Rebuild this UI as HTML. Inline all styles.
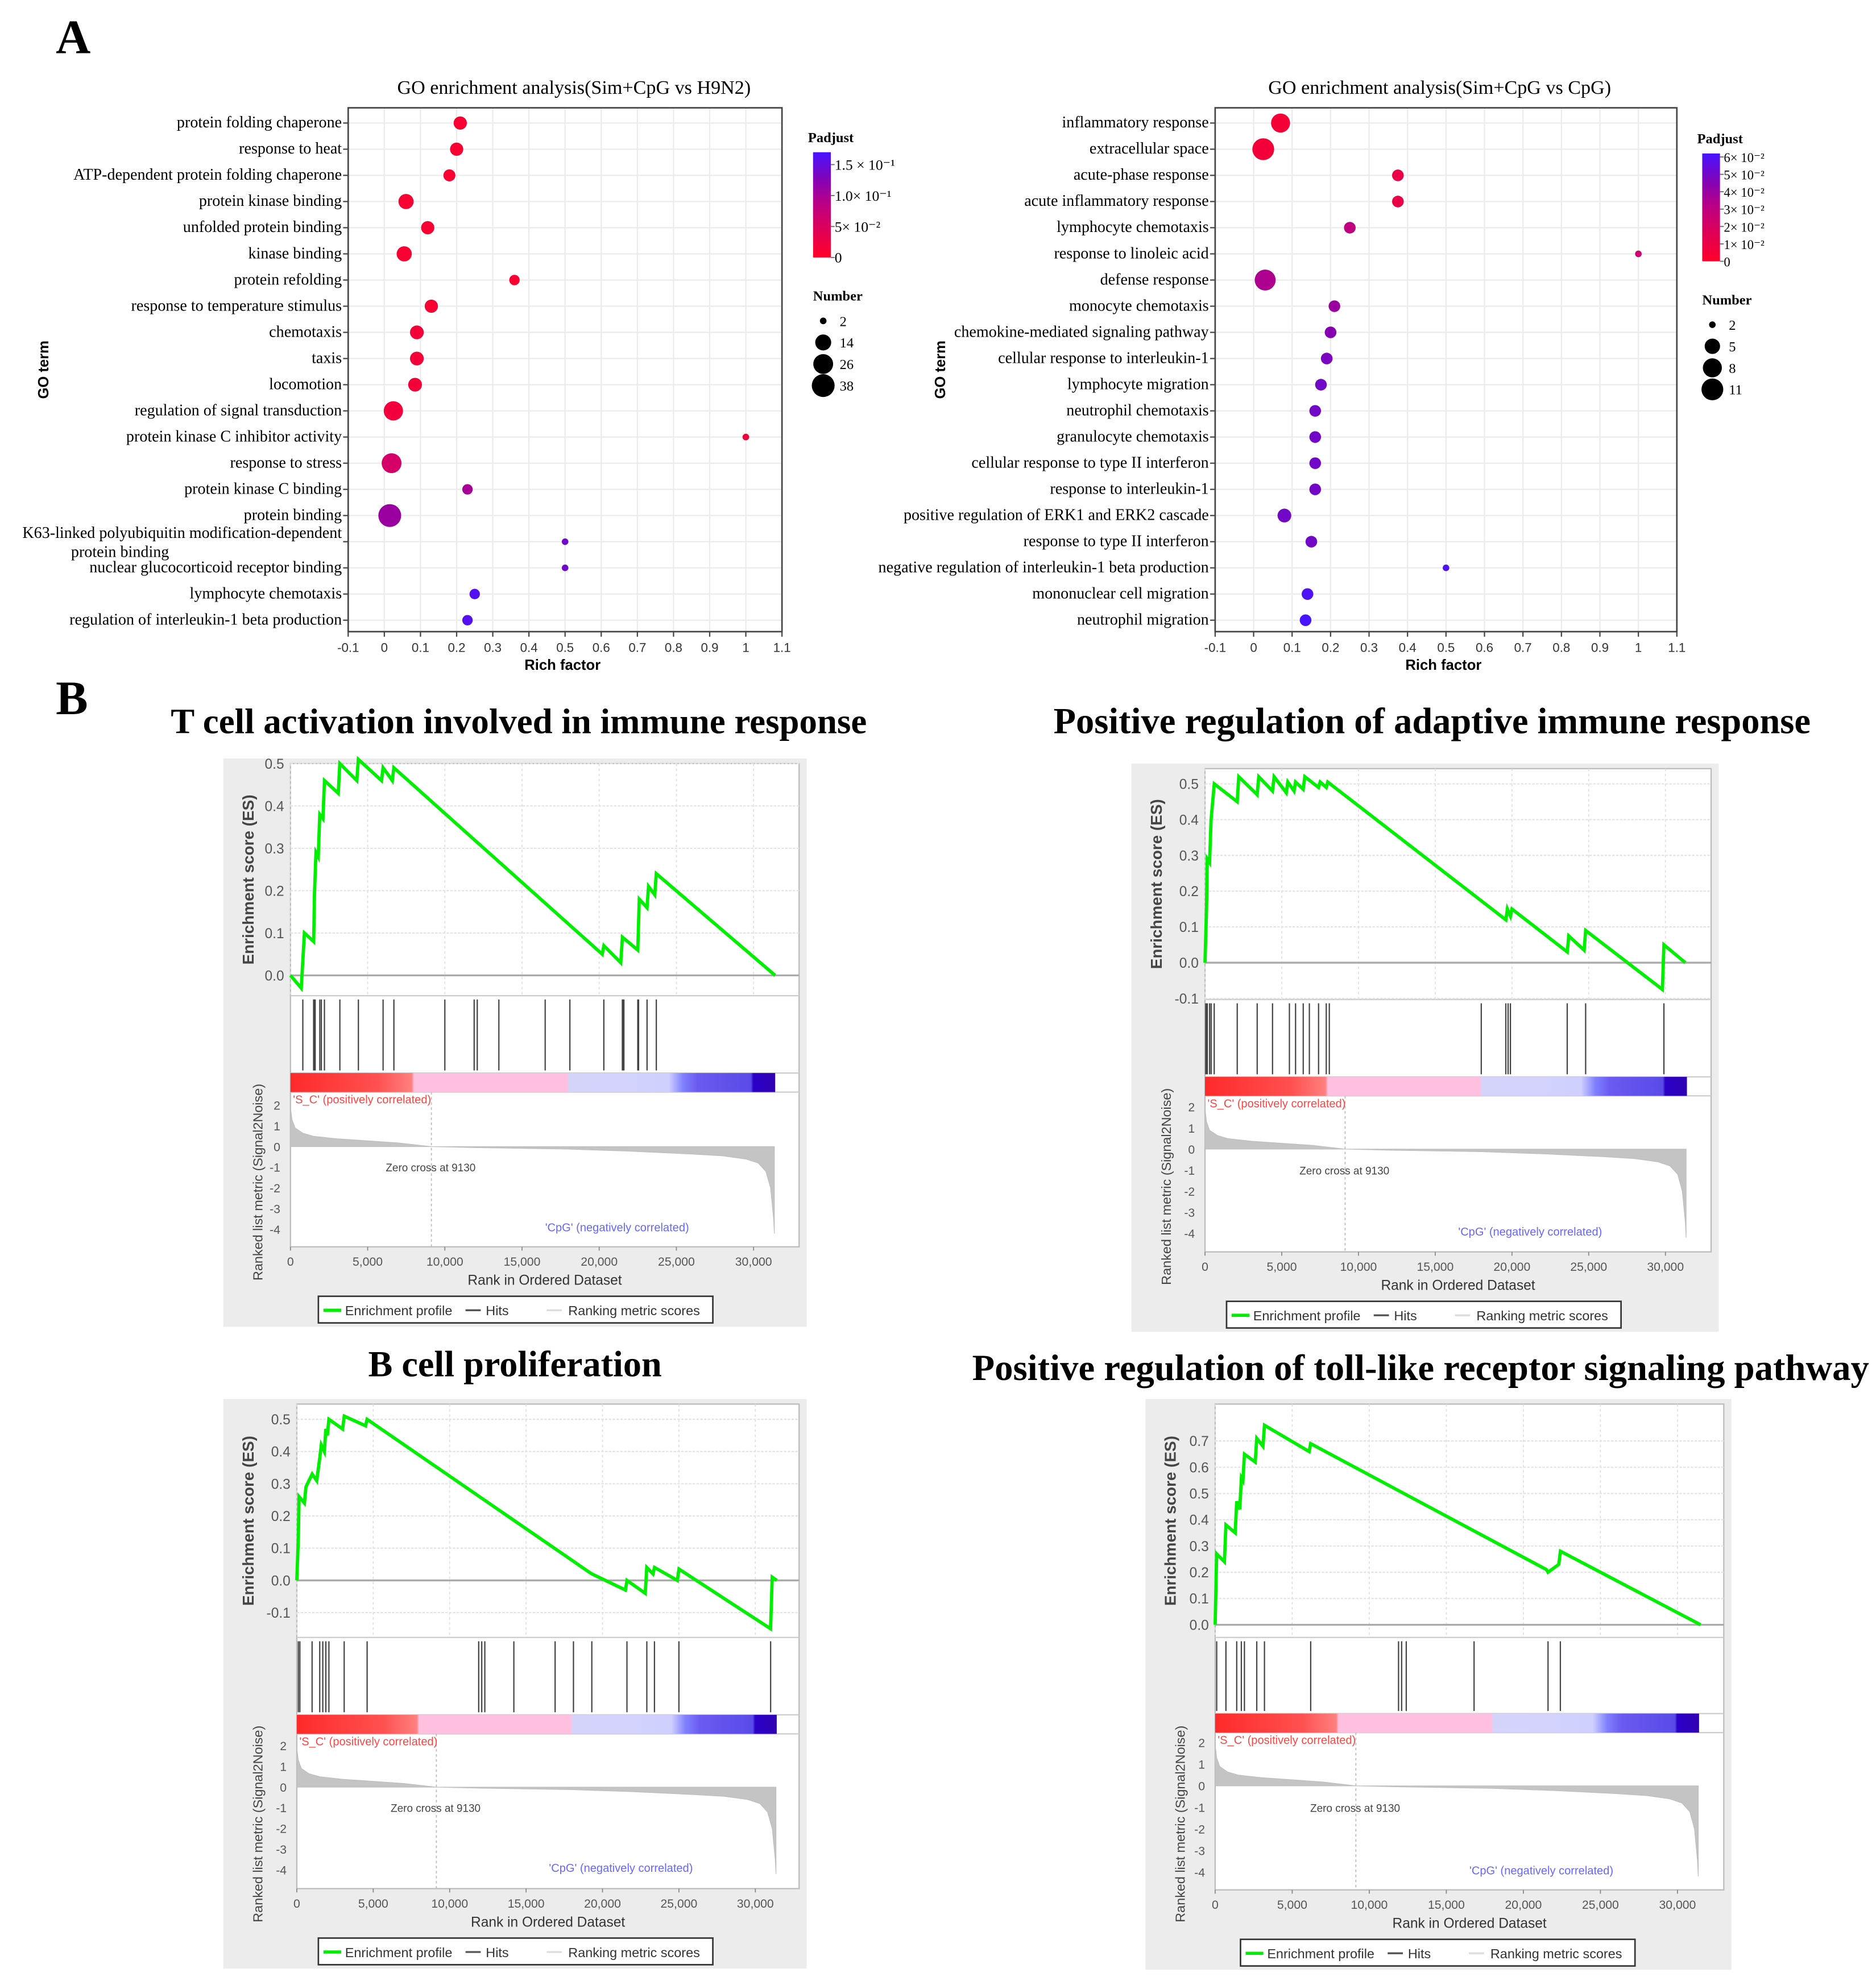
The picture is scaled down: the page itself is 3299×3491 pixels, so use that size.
<!DOCTYPE html>
<html><head><meta charset="utf-8">
<style>
html,body{margin:0;padding:0;background:#fff;}
svg{display:block;}
</style></head>
<body>
<svg id="fig" xmlns="http://www.w3.org/2000/svg" width="3299" height="3491" viewBox="0 0 1479 1565" preserveAspectRatio="none">
<rect x="0" y="0" width="1479" height="1565" fill="#fff"/>
<text x="44" y="42" font-family="Liberation Serif, serif" font-weight="bold" font-size="38">A</text>
<text x="44" y="563" font-family="Liberation Serif, serif" font-weight="bold" font-size="38">B</text>
</svg>
<script>
// ---------------- Panel A data ----------------
const leftTerms = ["protein folding chaperone","response to heat","ATP-dependent protein folding chaperone","protein kinase binding","unfolded protein binding","kinase binding","protein refolding","response to temperature stimulus","chemotaxis","taxis","locomotion","regulation of signal transduction","protein kinase C inhibitor activity","response to stress","protein kinase C binding","protein binding","K63-linked polyubiquitin modification-dependent|protein binding","nuclear glucocorticoid receptor binding","lymphocyte chemotaxis","regulation of interleukin-1 beta production"];
const leftRich = [0.21,0.20,0.18,0.06,0.12,0.055,0.36,0.13,0.09,0.09,0.085,0.025,1.0,0.02,0.23,0.015,0.50,0.50,0.25,0.23];
const leftNum = [8,8,6,12,8,12,4,8,9,9,9,24,2,26,4,38,2,2,4,4];
const leftPadj = [0.01,0.01,0.01,0.01,0.01,0.01,0.01,0.01,0.015,0.015,0.015,0.02,0.02,0.06,0.1,0.11,0.14,0.14,0.16,0.16];
const leftPadjTicks = [0,0.05,0.10,0.15];
const leftPadjLabels = ["0","5× 10⁻²","1.0× 10⁻¹","1.5 × 10⁻¹"];
const leftNumTicks = [2,14,26,38];

const rightTerms = ["inflammatory response","extracellular space","acute-phase response","acute inflammatory response","lymphocyte chemotaxis","response to linoleic acid","defense response","monocyte chemotaxis","chemokine-mediated signaling pathway","cellular response to interleukin-1","lymphocyte migration","neutrophil chemotaxis","granulocyte chemotaxis","cellular response to type II interferon","response to interleukin-1","positive regulation of ERK1 and ERK2 cascade","response to type II interferon","negative regulation of interleukin-1 beta production","mononuclear cell migration","neutrophil migration"];
const rightRich = [0.07,0.025,0.375,0.375,0.25,1.0,0.03,0.21,0.20,0.19,0.175,0.16,0.16,0.16,0.16,0.08,0.15,0.50,0.14,0.135];
const rightNum = [8,11,3,3,3,2,10,3,3,3,3,3,3,3,3,4,3,2,3,3];
const rightPadj = [0.005,0.006,0.01,0.01,0.03,0.025,0.035,0.04,0.045,0.048,0.05,0.05,0.05,0.05,0.05,0.05,0.05,0.06,0.06,0.062];
const rightPadjTicks = [0,0.01,0.02,0.03,0.04,0.05,0.06];
const rightPadjLabels = ["0","1× 10⁻²","2× 10⁻²","3× 10⁻²","4× 10⁻²","5× 10⁻²","6× 10⁻²"];
const rightNumTicks = [2,5,8,11];

const richTicks = [-0.1,0,0.1,0.2,0.3,0.4,0.5,0.6,0.7,0.8,0.9,1,1.1];
const richTickLabels = ["-0.1","0","0.1","0.2","0.3","0.4","0.5","0.6","0.7","0.8","0.9","1","1.1"];

// ---------------- Panel B data ----------------
const esRanks1 = [0,700,900,1500,1550,1650,1800,1900,2100,2200,3100,3200,4300,4400,5900,6000,6600,6700,20200,20300,21400,21500,22500,22600,23100,23200,23600,23700,31400];
const esVals1 = [0,-0.03,0.1,0.08,0.19,0.29,0.28,0.38,0.37,0.46,0.43,0.5,0.46,0.51,0.46,0.49,0.46,0.49,0.05,0.07,0.03,0.09,0.06,0.18,0.16,0.21,0.19,0.24,0.0];
const hits1 = [800,1500,1550,1600,1900,2000,2200,3200,4400,6000,6700,10000,11900,12100,13500,16500,18100,20300,21500,21550,21600,22500,22550,23100,23700];

const esRanks2 = [0,100,150,300,400,600,2100,2200,3400,3500,4400,4500,5300,5400,5800,5900,6400,6500,7400,7500,7900,8000,19600,19700,19900,20000,23600,23700,24700,24800,29800,29900,31300];
const esVals2 = [0,0.15,0.29,0.28,0.4,0.5,0.45,0.52,0.47,0.52,0.48,0.52,0.475,0.505,0.48,0.505,0.485,0.52,0.49,0.505,0.49,0.505,0.12,0.15,0.13,0.15,0.03,0.075,0.035,0.09,-0.075,0.05,0.0];
const hits2 = [50,100,150,300,400,600,2100,3400,4400,5500,5900,6400,6800,7400,7900,8100,18000,19600,19750,19900,23600,24800,29900];

const esRanks3 = [0,100,150,500,600,1000,1300,1500,1600,1800,1900,2000,2100,3000,3100,4500,4600,19000,19300,21500,21600,22800,22900,23300,23400,24900,25000,31000,31100,31400];
const esVals3 = [0,0.13,0.26,0.24,0.29,0.33,0.31,0.38,0.42,0.4,0.47,0.45,0.5,0.47,0.51,0.48,0.5,0.03,0.02,-0.03,0.0,-0.04,0.04,0.02,0.04,0.0,0.035,-0.15,0.01,0.0];
const hits3 = [100,200,1000,1500,1700,1900,2100,3100,4600,11900,12100,12300,14200,16900,18100,19300,21600,22900,23400,25000,31000];

const esRanks4 = [0,100,600,700,1300,1400,1600,1700,1800,1900,2600,2700,3100,3200,6100,6200,21500,21600,22300,22400,31500];
const esVals4 = [0,0.27,0.24,0.38,0.35,0.47,0.44,0.56,0.55,0.65,0.62,0.71,0.68,0.76,0.66,0.69,0.21,0.2,0.23,0.28,0.0];
const hits4 = [100,700,1400,1700,1900,2700,3200,6200,11900,12100,12400,16800,21600,22400];

const rmRanks = [0,100,300,800,1500,3000,5000,7000,9130,9130,12000,18000,22000,26000,28000,29500,30300,30800,31100,31300,31350];
const rmVals = [1.9,1.3,0.9,0.65,0.5,0.38,0.28,0.18,0.0,0.0,-0.05,-0.12,-0.22,-0.36,-0.45,-0.6,-0.8,-1.2,-2.0,-3.5,-4.2];
const rmTicks = [2,1,0,-1,-2,-3,-4];
const rankTicks = [0,5000,10000,15000,20000,25000,30000];
const rankTickLabels = ["0","5,000","10,000","15,000","20,000","25,000","30,000"];

// ---------------- helpers ----------------
const NS = "http://www.w3.org/2000/svg";
const svg = document.getElementById('fig');
function mk(tag, parent, attrs){
  const e = document.createElementNS(NS, tag);
  for (const k in attrs) e.setAttribute(k, attrs[k]);
  (parent||svg).appendChild(e);
  return e;
}
function padjColor(t){
  const stops=[[0,[255,0,40]],[0.45,[200,0,120]],[0.7,[140,0,170]],[1,[70,20,255]]];
  for(let i=0;i<stops.length-1;i++){
    const a=stops[i],b=stops[i+1];
    if(t<=b[0]){const u=(t-a[0])/(b[0]-a[0]);const c=a[1].map((v,j)=>Math.round(v+(b[1][j]-v)*u));return `rgb(${c[0]},${c[1]},${c[2]})`;}
  }
  return 'rgb(70,20,255)';
}
const SERIF="Liberation Serif, serif", SANS="Liberation Sans, sans-serif";

// ---------------- Panel A drawer ----------------
function goChart(cfg, terms, rich, nums, padj, padjTicks, padjLabels, numTicks){
  const g = mk('g', svg, {});
  
  
  const L=cfg.L, R=cfg.R, T=cfg.T, B=cfg.B;
  const xs = v => L + (v+0.1)/1.2*(R-L);
  const rowY = i => cfg.y0 + i*cfg.dy;
  const rs = n => cfg.rMin + (cfg.rMax-cfg.rMin)*Math.sqrt((n-numTicks[0])/(numTicks[numTicks.length-1]-numTicks[0]));
  richTicks.forEach(v=>{ const gl=mk('line',g,{x1:xs(v),x2:xs(v),y1:T,y2:B,stroke:'#ebebeb','stroke-width':1});  });
  terms.forEach((t,i)=>{ const gl=mk('line',g,{x1:L,x2:R,y1:rowY(i),y2:rowY(i),stroke:'#ebebeb','stroke-width':1});  });
  const fr=mk('rect',g,{x:L,y:T,width:R-L,height:B-T,fill:'none',stroke:'#444','stroke-width':1.2});
   
  const ti=mk('text',g,{x:(L+R)/2+cfg.titleDx,y:T-11,'text-anchor':'middle','font-family':SERIF,'font-size':15.3});
  ti.textContent=cfg.title;
   
  richTicks.forEach((v,i)=>{
    mk('line',g,{x1:xs(v),x2:xs(v),y1:B,y2:B+4,stroke:'#444','stroke-width':1});
    const tl=mk('text',g,{x:xs(v),y:B+16,'text-anchor':'middle','font-family':SANS,'font-size':10,fill:'#333'});
    tl.textContent=richTickLabels[i];
     
  });
  const xt=mk('text',g,{x:(L+R)/2-2,y:B+30,'text-anchor':'middle','font-family':SANS,'font-size':11.5,'font-weight':'bold'});
  xt.textContent='Rich factor';
   
  const yt=mk('text',g,{x:0,y:0,'text-anchor':'middle','font-family':SANS,'font-size':11.5,'font-weight':'bold',transform:`translate(${cfg.ytX},${(T+B)/2}) rotate(-90)`});
  yt.textContent='GO term';
   
  terms.forEach((t,i)=>{
    mk('line',g,{x1:L-4,x2:L,y1:rowY(i),y2:rowY(i),stroke:'#444','stroke-width':1});
    const parts=t.split('|');
    if(parts.length>1){
      const a=mk('text',g,{x:L-5,y:rowY(i)-3,'text-anchor':'end','font-family':SERIF,'font-size':12.6});
      a.textContent=parts[0];
       
      const b2=mk('text',g,{x:cfg.wrapX,y:rowY(i)+12,'text-anchor':'start','font-family':SERIF,'font-size':12.6});
      b2.textContent=parts[1];
       
    } else {
      const a=mk('text',g,{x:L-5,y:rowY(i)+3.5,'text-anchor':'end','font-family':SERIF,'font-size':12.6});
      a.textContent=t;
       
    }
  });
  terms.forEach((t,i)=>{
    const c=mk('circle',g,{cx:xs(rich[i]),cy:rowY(i),r:rs(nums[i]),fill:padjColor(padj[i]/cfg.padjMax)});
    
    
  });
  const lg=cfg.leg;
  const pt=mk('text',g,{x:lg.x-4,y:lg.y-8,'font-family':SERIF,'font-size':11,'font-weight':'bold'});
  pt.textContent='Padjust';
   
  const gid='grad'+cfg.name;
  const defs=mk('defs',g,{});
  const lgr=mk('linearGradient',defs,{id:gid,x1:0,y1:1,x2:0,y2:0});
  [0,0.25,0.5,0.75,1].forEach(s=>mk('stop',lgr,{offset:s,'stop-color':padjColor(s)}));
  const cb=mk('rect',g,{x:lg.x,y:lg.y,width:14,height:lg.h,fill:`url(#${gid})`});
   
  padjTicks.forEach((v,i)=>{
    const yy=lg.y+lg.h - v/cfg.padjMax*lg.h;
    mk('line',g,{x1:lg.x+14,x2:lg.x+17,y1:yy,y2:yy,stroke:'#666','stroke-width':0.8});
    const tl=mk('text',g,{x:lg.x+17,y:yy+4,'font-family':SERIF,'font-size':cfg.legFont});
    tl.textContent=padjLabels[i];
     
  });
  const nt=mk('text',g,{x:lg.x,y:lg.ny,'font-family':SERIF,'font-size':11,'font-weight':'bold'});
  nt.textContent='Number';
   
  numTicks.forEach((n,i)=>{
    const yy=lg.ny+16+i*cfg.numDy;
    const c=mk('circle',g,{cx:lg.x+8,cy:yy,r:rs(n),fill:'#000'});
     
    const tl=mk('text',g,{x:lg.x+21,y:yy+4,'font-family':SERIF,'font-size':11});
    tl.textContent=n;
     
  });
}
goChart({name:'go-chart-h9n2',title:'GO enrichment analysis(Sim+CpG vs H9N2)',titleDx:7,L:274.5,R:616.5,T:85,B:498,y0:97,dy:20.63,ytX:38,wrapX:56,rMin:2.6,rMax:9,padjMax:0.17,
  leg:{x:641,y:120,h:83,ny:237},legFont:11.5,numDy:17},
  leftTerms,leftRich,leftNum,leftPadj,leftPadjTicks,leftPadjLabels,leftNumTicks);
goChart({name:'go-chart-cpg',title:'GO enrichment analysis(Sim+CpG vs CpG)',titleDx:-5,L:958,R:1322,T:85,B:498,y0:97,dy:20.63,ytX:745,wrapX:700,rMin:2.6,rMax:8.6,padjMax:0.062,
  leg:{x:1342,y:121,h:85,ny:240},legFont:10.2,numDy:17},
  rightTerms,rightRich,rightNum,rightPadj,rightPadjTicks,rightPadjLabels,rightNumTicks);

// ---------------- Panel B drawer ----------------
function gsea(cfg, esR, esV, hits){
  const g=mk('g',svg,{});
  
  
  const bx=cfg.bx, by=cfg.by, bw=cfg.bw, bh=cfg.bh;
  const t=mk('text',g,{x:cfg.tx,y:cfg.ty,'text-anchor':'middle','font-family':SERIF,'font-size':cfg.tfs,'font-weight':'bold'});
  t.textContent=cfg.title;
   
  const bg=mk('rect',g,{x:bx,y:by,width:bw,height:bh,fill:'#ececec'});
   
  const L=cfg.x0, R=bx+bw-6;
  const xr=r=>cfg.x0 + r/10000*cfg.px10k;
  const esY=v=>cfg.esZero - v*cfg.esPer;
  const esTop=by+4, esBot=cfg.hitsTop, barTop=cfg.barTop, barBot=cfg.barTop+15, rmBot=cfg.rmBot;
  const rmY=v=>cfg.rmZero - v*cfg.rmPer;
  mk('rect',g,{x:L,y:esTop,width:R-L,height:rmBot-esTop,fill:'#fff',stroke:'#bbb','stroke-width':1});
  [esBot,barTop,barBot].forEach(y=>mk('line',g,{x1:L,x2:R,y1:y,y2:y,stroke:'#ccc','stroke-width':1}));
  rankTicks.forEach(r=>mk('line',g,{x1:xr(r),x2:xr(r),y1:esTop,y2:esBot,stroke:'#e0e0e0','stroke-width':0.8,'stroke-dasharray':'2,2'}));
  cfg.esTicks.forEach(v=>{
    mk('line',g,{x1:L,x2:R,y1:esY(v),y2:esY(v),stroke:v===0?'#aaa':'#e3e3e3','stroke-width':v===0?1.5:1,'stroke-dasharray':v===0?'':'2,1'});
    const tl=mk('text',g,{x:L-5,y:esY(v)+4,'text-anchor':'end','font-family':SANS,'font-size':11,fill:'#555'});
    tl.textContent=v.toFixed(1);
     
  });
  const yl=mk('text',g,{x:0,y:0,'text-anchor':'middle','font-family':SANS,'font-size':12.5,'font-weight':'bold',fill:'#444',transform:`translate(${bx+24},${(esTop+esBot)/2}) rotate(-90)`});
  yl.textContent='Enrichment score (ES)';
   
  const pts=esR.map((r,i)=>`${xr(r).toFixed(1)},${esY(esV[i]).toFixed(1)}`).join(' ');
  const pl=mk('polyline',g,{points:pts,fill:'none',stroke:'#00ee00','stroke-width':2.6,'stroke-linejoin':'miter'});
  
  
  hits.forEach(h=>{
    const hl=mk('line',g,{x1:xr(h),x2:xr(h),y1:esBot+3,y2:barTop-2,stroke:'#444','stroke-width':1});
    
    
  });
  const gid='bar'+cfg.name;
  const defs=mk('defs',g,{});
  const lgr=mk('linearGradient',defs,{id:gid,x1:0,y1:0,x2:1,y2:0});
  [[0,'#ff2a2a'],[0.18,'#ff5050'],[0.25,'#ff8080'],[0.255,'#ffc0e0'],[0.57,'#ffc0e0'],[0.575,'#d4d4fa'],[0.78,'#d0d0ff'],[0.81,'#8080ff'],[0.84,'#6a5af0'],[0.95,'#5a4ae8'],[0.955,'#2a00c8'],[1,'#3000b0']].forEach(s=>mk('stop',lgr,{offset:s[0],'stop-color':s[1]}));
  const cb=mk('rect',g,{x:xr(0),y:barTop,width:xr(31400)-xr(0),height:15,fill:`url(#${gid})`});
   
  let d=`M${xr(rmRanks[0])},${rmY(0)} `+rmRanks.map((r,i)=>`L${xr(r).toFixed(1)},${rmY(rmVals[i]).toFixed(1)}`).join(' ')+` L${xr(rmRanks[rmRanks.length-1])},${rmY(0)} Z`;
  const ar=mk('path',g,{d:d,fill:'#c4c4c4',stroke:'#bdbdbd','stroke-width':0.5});
   
  mk('line',g,{x1:xr(9130),x2:xr(9130),y1:barBot,y2:rmBot,stroke:'#bbb','stroke-width':0.8,'stroke-dasharray':'2,2'});
  rmTicks.forEach(v=>{
    const tl=mk('text',g,{x:L-8,y:rmY(v)+3.5,'text-anchor':'end','font-family':SANS,'font-size':9.5,fill:'#555'});
    tl.textContent=v;
     
  });
  const s1=mk('text',g,{x:L+2,y:barBot+9,'font-family':SANS,'font-size':9,fill:'#ff4444'});
  s1.textContent="'S_C' (positively correlated)";
   
  const s2=mk('text',g,{x:xr(9130)-36,y:rmY(-1.2),'font-family':SANS,'font-size':8.5,fill:'#444'});
  s2.textContent='Zero cross at 9130';
   
  const s3=mk('text',g,{x:xr(16500),y:rmY(-4.1),'font-family':SANS,'font-size':9,fill:'#6666ff'});
  s3.textContent="'CpG' (negatively correlated)";
   
  const yl2=mk('text',g,{x:0,y:0,'text-anchor':'middle','font-family':SANS,'font-size':10.5,fill:'#444',transform:`translate(${bx+31},${(barBot+rmBot+20)/2}) rotate(-90)`});
  yl2.textContent='Ranked list metric (Signal2Noise)';
   
  rankTicks.forEach((r,i)=>{
    mk('line',g,{x1:xr(r),x2:xr(r),y1:rmBot,y2:rmBot+3,stroke:'#888','stroke-width':0.8});
    const tl=mk('text',g,{x:xr(r),y:rmBot+15,'text-anchor':'middle','font-family':SANS,'font-size':9.5,fill:'#555'});
    tl.textContent=rankTickLabels[i];
     
  });
  const xt=mk('text',g,{x:(L+R)/2,y:rmBot+30,'text-anchor':'middle','font-family':SANS,'font-size':11,fill:'#333'});
  xt.textContent='Rank in Ordered Dataset';
   
  const ly=by+bh-24;
  const lb=mk('rect',g,{x:bx+75,y:ly,width:311,height:21,fill:'#fff',stroke:'#333','stroke-width':1.2});
   
  mk('line',g,{x1:bx+79,x2:bx+93,y1:ly+11,y2:ly+11,stroke:'#00ee00','stroke-width':2.5});
  const l1=mk('text',g,{x:bx+96,y:ly+15,'font-family':SANS,'font-size':10.5,fill:'#333'}); l1.textContent='Enrichment profile';
   
  mk('line',g,{x1:bx+191,x2:bx+203,y1:ly+11,y2:ly+11,stroke:'#555','stroke-width':1.5});
  const l2=mk('text',g,{x:bx+207,y:ly+15,'font-family':SANS,'font-size':10.5,fill:'#333'}); l2.textContent='Hits';
   
  mk('line',g,{x1:bx+255,x2:bx+267,y1:ly+11,y2:ly+11,stroke:'#ddd','stroke-width':1.5});
  const l3=mk('text',g,{x:bx+272,y:ly+15,'font-family':SANS,'font-size':10.5,fill:'#333'}); l3.textContent='Ranking metric scores';
   
}
gsea({name:'gsea-t-cell',title:'T cell activation involved in immune response',tx:409,ty:578,tfs:28.2,bx:176,by:598,bw:460,bh:448,
  x0:229,px10k:121.7,esZero:769,esPer:334,esTicks:[0,0.1,0.2,0.3,0.4,0.5],hitsTop:785,barTop:846,rmZero:904,rmPer:16.3,rmBot:983},esRanks1,esVals1,hits1);
gsea({name:'gsea-adaptive',title:'Positive regulation of adaptive immune response',tx:1129,ty:578,tfs:28.9,bx:892,by:602,bw:463,bh:448,
  x0:950,px10k:121,esZero:759,esPer:282,esTicks:[-0.1,0,0.1,0.2,0.3,0.4,0.5],hitsTop:788,barTop:849,rmZero:906,rmPer:16.6,rmBot:987},esRanks2,esVals2,hits2);
gsea({name:'gsea-b-cell',title:'B cell proliferation',tx:406,ty:1085,tfs:28.8,bx:176,by:1103,bw:460,bh:449,
  x0:234,px10k:120.5,esZero:1246,esPer:254,esTicks:[-0.1,0,0.1,0.2,0.3,0.4,0.5],hitsTop:1291,barTop:1352,rmZero:1409,rmPer:16.3,rmBot:1489},esRanks3,esVals3,hits3);
gsea({name:'gsea-toll-like',title:'Positive regulation of toll-like receptor signaling pathway',tx:1120,ty:1088,tfs:29,bx:903,by:1103,bw:462,bh:450,
  x0:958,px10k:121.5,esZero:1281,esPer:207,esTicks:[0,0.1,0.2,0.3,0.4,0.5,0.6,0.7],hitsTop:1291,barTop:1351,rmZero:1408,rmPer:17,rmBot:1490},esRanks4,esVals4,hits4);
</script>
</body></html>
